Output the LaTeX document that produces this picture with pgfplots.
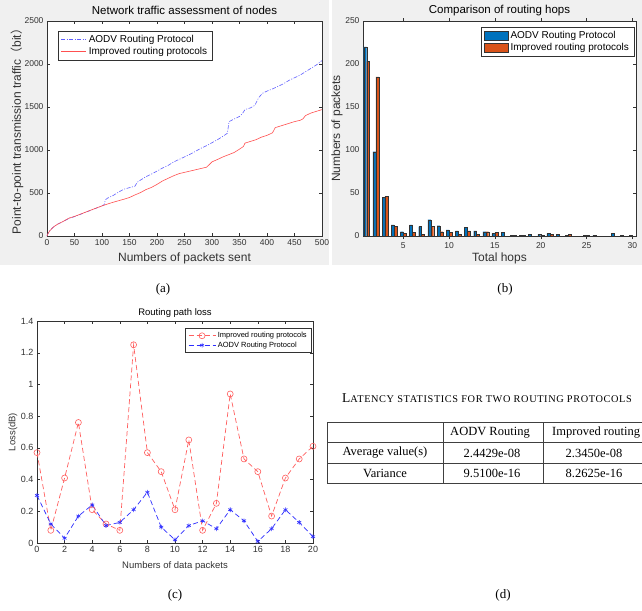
\documentclass[border=0pt]{standalone}
\usepackage{fontspec}
\setmainfont{Liberation Sans}
\newfontfamily\seriffont{Liberation Serif}
\newfontfamily\capfont[LetterSpace=6]{Liberation Serif}
\newfontfamily\cjk{Noto Sans CJK SC}
\usepackage{pgfplots}
\pgfplotsset{compat=1.18}

\definecolor{figgray}{RGB}{240,240,240}
\definecolor{axgray}{RGB}{50,50,50}
\definecolor{mblue}{RGB}{0,114,189}
\definecolor{morange}{RGB}{217,83,25}
\definecolor{ablue}{RGB}{95,95,255}
\definecolor{ared}{RGB}{255,80,80}
\definecolor{cred}{RGB}{255,95,95}
\definecolor{cblue}{RGB}{45,45,255}

\pgfplotsset{
  mat/.style={
    scale only axis, anchor=south west,
    axis background/.style={fill=white},
    tick align=inside, major tick length=3pt,
    axis line style={axgray, line width=0.5pt},
    tick style={axgray, line width=0.4pt},
    ticklabel style={text=axgray},
    label style={text=axgray},
    /pgf/number format/assume math mode=true,
    /pgf/number format/1000 sep={},
    scaled ticks=false,
    legend cell align=left,
    every axis title shift=0pt,
  },
  linelegend/.style={legend image code/.code={
    \draw[mark repeat=2, mark phase=2, ##1] plot coordinates {(0pt,0pt) (#1/2,0pt) (#1,0pt)};}},
  barlegend/.style={legend image code/.code={
    \draw[##1] (0pt,-4.5pt) rectangle (24pt,4.5pt);}},
}

\begin{document}
\begin{tikzpicture}[x=1pt,y=1pt]
\useasboundingbox (0,0) rectangle (642,-610);
\fill[figgray] (0,0) rectangle (329,-265);
\fill[figgray] (332,0) rectangle (642,-265);

% (a) network traffic
\begin{axis}[mat, at={(47pt,-236pt)}, width=275pt, height=215pt,
  xmin=0, xmax=500, ymin=0, ymax=2500,
  xtick={0,50,...,500}, ytick={0,500,...,2500},
  ticklabel style={font=\fontsize{8.5}{9}\selectfont},
  title={Network traffic assessment of nodes},
  title style={at={(axis description cs:0.5,1.051)}, anchor=center, font=\fontsize{11.5}{12}\selectfont},
  xlabel={Numbers of packets sent},
  xlabel style={at={(axis description cs:0.5,-0.102)}, anchor=center, font=\fontsize{12}{13}\selectfont},
  ylabel={Point-to-point transmission traffic{\cjk（}bit{\cjk）}},
  ylabel style={at={(axis description cs:-0.109,0.5)}, anchor=center, font=\fontsize{12}{13}\selectfont},
  legend style={at={(axis description cs:0.04,0.953)}, anchor=north west,
    draw=axgray, line width=0.4pt, font=\fontsize{10}{11}\selectfont, row sep=-1pt},
  linelegend=25pt]
\addplot[ablue, line width=0.6pt, dash pattern=on 4pt off 1.5pt on 1pt off 1.5pt] coordinates {
 (0,0) (2,30) (5,60) (10,95) (15,120) (20,140) (30,170) (40,205) (50,225) (60,250)
 (70,275) (80,300) (90,325) (100,350) (104,365) (106,420) (110,440) (120,470) (130,510)
 (140,545) (150,562) (160,580) (164,625) (170,650) (180,690) (190,720) (200,755)
 (210,790) (220,820) (230,860) (240,890) (250,920) (260,950) (270,985) (280,1020)
 (290,1050) (300,1085) (310,1120) (320,1160) (328,1195) (331,1330) (340,1360)
 (350,1390) (355,1420) (360,1470) (370,1490) (378,1520) (385,1610) (392,1660)
 (400,1685) (410,1710) (420,1740) (430,1770) (440,1810) (450,1840) (460,1870)
 (470,1910) (480,1950) (490,1990) (500,2040)};
\addlegendentry{AODV Routing Protocol}
\addplot[ared, line width=0.6pt] coordinates {
 (0,0) (2,30) (5,60) (10,95) (15,120) (20,140) (30,172) (40,208) (50,228) (60,252)
 (70,277) (80,302) (90,326) (100,350) (110,372) (120,392) (130,410) (140,428)
 (150,448) (160,478) (170,505) (180,540) (190,565) (200,600) (210,640) (220,670)
 (230,700) (240,725) (250,740) (260,755) (270,770) (280,785) (290,800) (295,830)
 (300,862) (310,890) (320,920) (330,945) (340,970) (350,1010) (357,1040) (360,1080)
 (370,1100) (380,1120) (390,1150) (400,1170) (410,1200) (415,1260) (420,1270)
 (430,1290) (440,1310) (450,1330) (460,1345) (465,1360) (470,1400) (480,1430)
 (490,1450) (500,1470)};
\addlegendentry{Improved routing protocols}
\end{axis}

% (b) routing hops
\begin{axis}[mat, at={(363pt,-236pt)}, width=273pt, height=215pt,
  xmin=0.6, xmax=30.4, ymin=0, ymax=250,
  xtick={5,10,...,30}, ytick={0,50,...,250},
  ybar=0pt, bar width=0.32,
  ticklabel style={font=\fontsize{8.5}{9}\selectfont},
  title={Comparison of routing hops},
  title style={at={(axis description cs:0.5,1.051)}, anchor=center, font=\fontsize{11.5}{12}\selectfont},
  xlabel={Total hops},
  xlabel style={at={(axis description cs:0.5,-0.102)}, anchor=center, font=\fontsize{12}{13}\selectfont},
  ylabel={Numbers of packets},
  ylabel style={at={(axis description cs:-0.095,0.5)}, anchor=center, font=\fontsize{12}{13}\selectfont},
  legend style={at={(axis description cs:0.993,0.972)}, anchor=north east,
    draw=axgray, line width=0.4pt, font=\fontsize{10}{11}\selectfont, row sep=-1pt}]
\addplot[fill=mblue, draw=black!80, line width=0.3pt, barlegend] coordinates {
 (1,220) (2,98) (3,45) (4,13) (5,5) (6,13) (7,11) (8,19) (9,12) (10,7) (11,6) (12,10)
 (13,6) (14,5) (15,3) (16,4) (17,1) (18,1) (19,2) (20,2) (21,3) (22,2) (23,1) (25,1)
 (26,1) (28,3) (29,1) (30,1)};
\addlegendentry{AODV Routing Protocol}
\addplot[fill=morange, draw=black!80, line width=0.3pt, barlegend] coordinates {
 (1,203) (2,185) (3,46) (4,11) (5,3) (6,4) (7,2) (8,11) (9,5) (10,4) (11,2) (12,6)
 (13,2) (14,5) (15,4) (17,1) (18,1) (20,1) (21,2) (23,2) (25,1)};
\addlegendentry{Improved routing protocols}
\end{axis}

% (c) routing path loss
\begin{axis}[mat, at={(37pt,-543pt)}, width=276pt, height=222pt,
  xmin=0, xmax=20, ymin=0, ymax=1.4,
  xtick={0,2,...,20}, ytick={0,0.2,0.4,0.6,0.8,1,1.2,1.4},
  ticklabel style={font=\fontsize{9}{10}\selectfont},
  title={Routing path loss},
  title style={at={(axis description cs:0.5,1.036)}, anchor=center, font=\fontsize{9.5}{10}\selectfont},
  xlabel={Numbers of data packets},
  xlabel style={at={(axis description cs:0.5,-0.104)}, anchor=center, font=\fontsize{9.5}{10}\selectfont},
  ylabel={Loss(dB)},
  ylabel style={at={(axis description cs:-0.087,0.5)}, anchor=center, font=\fontsize{9.5}{10}\selectfont},
  legend style={at={(axis description cs:0.996,0.968)}, anchor=north east,
    draw=axgray, line width=0.4pt, font=\fontsize{7.5}{8}\selectfont, row sep=-1.5pt},
  linelegend=27pt]
\addplot[cred, line width=0.7pt, dash pattern=on 5pt off 3pt, mark=o,
  mark options={solid, line width=0.6pt}, mark size=3pt] coordinates {
 (0,0.57) (1,0.08) (2,0.41) (3,0.76) (4,0.21) (5,0.12) (6,0.08) (7,1.25) (8,0.57)
 (9,0.45) (10,0.21) (11,0.65) (12,0.08) (13,0.25) (14,0.94) (15,0.53) (16,0.45)
 (17,0.17) (18,0.41) (19,0.53) (20,0.61)};
\addlegendentry{Improved routing protocols}
\addplot[cblue, line width=0.7pt, dash pattern=on 5pt off 3pt, mark=asterisk,
  mark options={solid, line width=0.6pt}, mark size=2.3pt] coordinates {
 (0,0.30) (1,0.12) (2,0.03) (3,0.17) (4,0.24) (5,0.11) (6,0.13) (7,0.21) (8,0.32)
 (9,0.10) (10,0.02) (11,0.11) (12,0.14) (13,0.09) (14,0.21) (15,0.14) (16,0.01)
 (17,0.09) (18,0.21) (19,0.13) (20,0.04)};
\addlegendentry{AODV Routing Protocol}
\end{axis}

% (d) latency table
\begin{scope}
\clip (322,-300) rectangle (642,-610);
\node[anchor=west, inner sep=0pt] at (342,-398) {\capfont\fontsize{13.5}{13}\selectfont L\fontsize{10.3}{10}\selectfont ATENCY STATISTICS FOR TWO ROUTING PROTOCOLS};
\draw[black!75, line width=0.6pt] (327,-422) rectangle (646,-483);
\draw[black!75, line width=0.6pt] (327,-442) -- (646,-442) (327,-463) -- (646,-463)
  (443,-422) -- (443,-483) (543,-422) -- (543,-483);
\begin{scope}[every node/.style={font=\seriffont\fontsize{12.5}{13}\selectfont, inner sep=0pt}]
\node at (490,-432.5) {AODV Routing};
\node[anchor=west] at (552,-432.5) {Improved routing};
\node at (385,-453) {Average value(s)};
\node at (492,-453) {2.4429e-08};
\node at (594,-453) {2.3450e-08};
\node at (385,-473) {Variance};
\node at (492,-473) {9.5100e-16};
\node at (594,-473) {8.2625e-16};
\end{scope}
\end{scope}

% panel tags
\begin{scope}[every node/.style={font=\seriffont\fontsize{13}{14}\selectfont}]
\node at (163,-289) {(a)};
\node at (505,-289) {(b)};
\node at (175,-595) {(c)};
\node at (503,-595) {(d)};
\end{scope}
\end{tikzpicture}
\end{document}
